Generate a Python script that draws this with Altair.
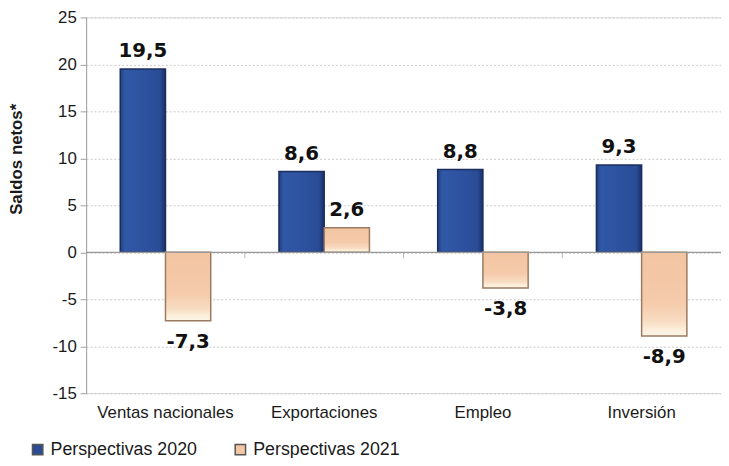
import altair as alt
import pandas as pd

categories = ["Ventas nacionales", "Exportaciones", "Empleo", "Inversión"]
series = ["Perspectivas 2020", "Perspectivas 2021"]
values_2020 = [19.5, 8.6, 8.8, 9.3]
values_2021 = [-7.3, 2.6, -3.8, -8.9]
y_ticks = [-15, -10, -5, 0, 5, 10, 15, 20, 25]

rows = []
for c, v in zip(categories, values_2020):
    rows.append({"cat": c, "serie": series[0], "v": v, "lbl": f"{v:.1f}".replace(".", ",")})
for c, v in zip(categories, values_2021):
    rows.append({"cat": c, "serie": series[1], "v": v, "lbl": f"{v:.1f}".replace(".", ",")})
df = pd.DataFrame(rows)
df["pos"] = df["v"] >= 0

boundaries = pd.DataFrame({"b": list(range(1, len(categories)))})

FONT = "Liberation Sans"

xscale = alt.Scale(domain=categories, paddingInner=0.43, paddingOuter=0.215)
yscale = alt.Scale(domain=[-15, 25], nice=False)
xoff = alt.XOffset("serie:N", sort=series, scale=alt.Scale(domain=series))

x = alt.X("cat:N", scale=xscale, sort=categories,
          axis=alt.Axis(title=None, orient="bottom", domain=False, ticks=False,
                        labelAngle=0, labelFont=FONT, labelFontSize=17,
                        labelColor="#1a1a1a", labelPadding=12))
y = alt.Y("v:Q", scale=yscale,
          axis=alt.Axis(title="Saldos netos*", values=y_ticks, labelExpr="'' + datum.value",
                        titleFont=FONT, titleFontSize=17, titleFontWeight="bold",
                        titleColor="#1a1a1a", titleX=-70, titleY=143, titleAngle=270,
                        titleAlign="center", titleBaseline="middle",
                        labelFont=FONT, labelFontSize=17,
                        labelColor="#1a1a1a", labelPadding=4, tickSize=6,
                        tickColor="#a0a0a0", domainColor="#a0a0a0",
                        grid=True, gridColor="#c8c8c8", gridDash=[2, 2], gridWidth=1))

color = alt.Color("serie:N", scale=alt.Scale(domain=series, range=["#2B4C93", "#F3C7A4"]),
                  legend=alt.Legend(title=None, orient="none", direction="horizontal",
                                    legendX=-58, legendY=428, symbolType="square",
                                    symbolSize=110, symbolStrokeColor="#555555",
                                    labelFont=FONT, labelFontSize=18, labelColor="#1a1a1a",
                                    columnPadding=34, labelOffset=4))

base_bars = alt.Chart(df).mark_bar().encode(
    x=x, y=y, y2=alt.datum(0), xOffset=xoff, color=color)

blue_grad = alt.LinearGradient(
    gradient="linear", x1=0, x2=1, y1=0, y2=0,
    stops=[alt.GradientStop(offset=0, color="#223f80"),
           alt.GradientStop(offset=0.1, color="#3058a6"),
           alt.GradientStop(offset=0.5, color="#2d52a0"),
           alt.GradientStop(offset=0.88, color="#2a4c96"),
           alt.GradientStop(offset=1, color="#1a2f66")])
peach_grad = alt.LinearGradient(
    gradient="linear", x1=0, x2=0, y1=0, y2=1,
    stops=[alt.GradientStop(offset=0, color="#f2c4a2"),
           alt.GradientStop(offset=0.6, color="#f5cbab"),
           alt.GradientStop(offset=0.82, color="#f8dcc2"),
           alt.GradientStop(offset=0.93, color="#fcefdc"),
           alt.GradientStop(offset=1, color="#fdf6ea")])

blue_bars = alt.Chart(df[df["serie"] == series[0]]).mark_bar(
    fill=blue_grad, stroke="#1b2f5e", strokeWidth=1.5).encode(
    x=x, y=y, y2=alt.datum(0), xOffset=xoff)
peach_bars = alt.Chart(df[df["serie"] == series[1]]).mark_bar(
    fill=peach_grad, stroke="#9b7a60", strokeWidth=1.5).encode(
    x=x, y=y, y2=alt.datum(0), xOffset=xoff)

zero = alt.Chart(pd.DataFrame({"z": [0]})).mark_rule(color="#9a9a9a", strokeWidth=1.2).encode(
    y=alt.Y("z:Q", scale=yscale))

ticks = alt.Chart(boundaries).mark_tick(color="#9a9a9a", size=6, thickness=1, yOffset=3).encode(
    x=alt.X("b:Q", scale=alt.Scale(domain=[0, len(categories)], nice=False, zero=False), axis=None),
    y=alt.datum(0))

pos_lbl = alt.Chart(df[df["pos"]]).mark_text(baseline="bottom", dy=-8, font="DejaVu Sans",
                                            fontWeight="bold", fontSize=20, color="#111111").encode(
    x=x, xOffset=xoff, y=y, text="lbl:N")
neg_lbl = alt.Chart(df[~df["pos"]]).mark_text(baseline="top", dy=11, font="DejaVu Sans",
                                             fontWeight="bold", fontSize=20, color="#111111").encode(
    x=x, xOffset=xoff, y=y, text="lbl:N")

main = alt.layer(base_bars, blue_bars, peach_bars, zero, pos_lbl, neg_lbl)

chart = alt.layer(main, ticks).resolve_scale(x="independent").properties(
    width=642, height=380,
    autosize=alt.AutoSizeParams(type="none"),
    padding={"left": 79, "right": 0, "top": 7, "bottom": 63},
).configure_view(stroke=None).configure(background="white")

chart.save("out.html", embed_options={"renderer": "svg", "actions": False})
